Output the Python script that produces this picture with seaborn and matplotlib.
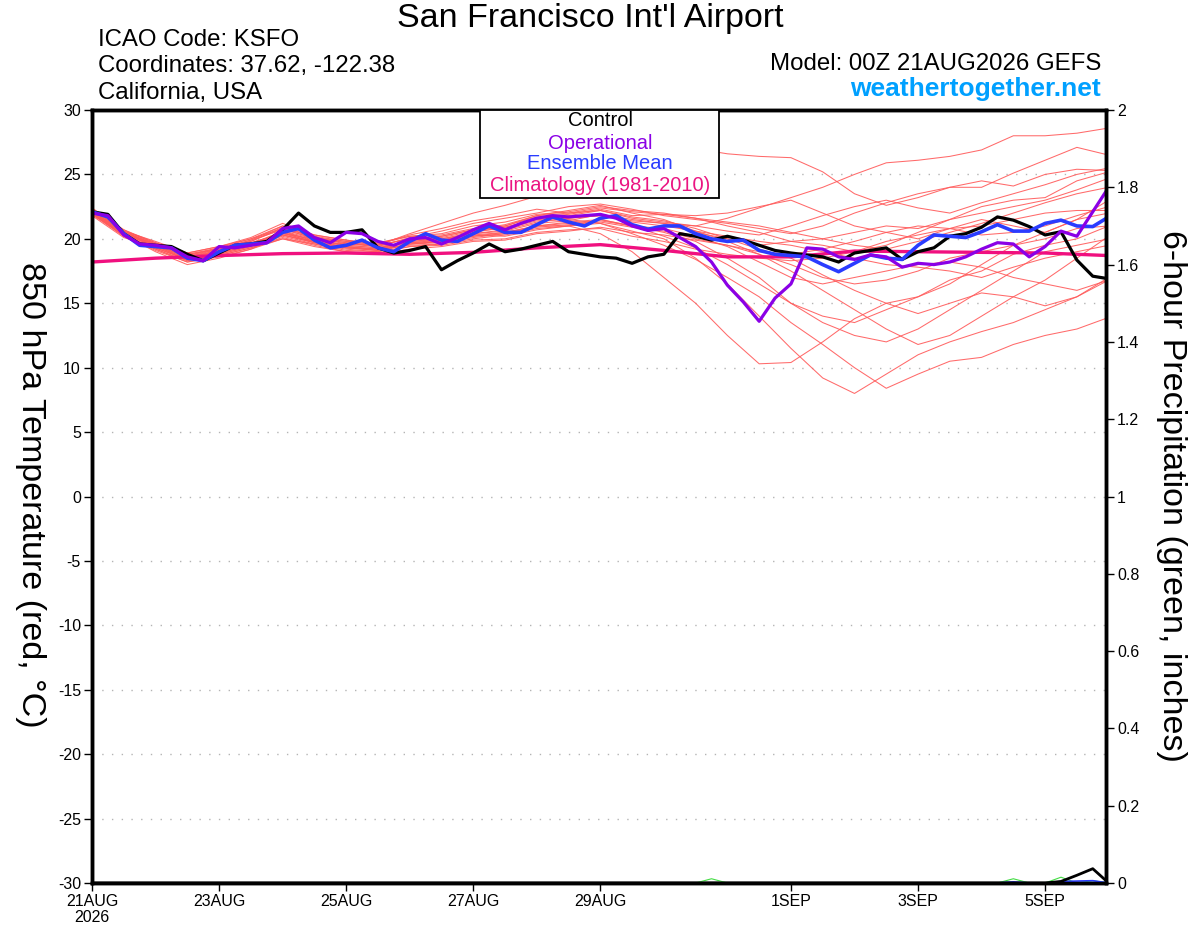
import numpy as np
import pandas as pd
import seaborn as sns
import matplotlib.pyplot as plt
from matplotlib.patches import Rectangle

# ---- data (hours since 00Z 21AUG2026) ----
hours6 = list(range(0, 385, 6))     # 65 steps, 6-hourly
hours12 = list(range(0, 385, 12))   # 33 steps, 12-hourly
clim_hours = list(range(0, 385, 24))

control = [22.1, 21.9, 20.4, 19.6, 19.5, 19.4, 18.8, 18.3, 18.9, 19.5, 19.6, 19.8, 20.7,
           22.0, 21.0, 20.5, 20.5, 20.7, 19.3, 18.9, 19.1, 19.4, 17.6, 18.3, 18.9, 19.6,
           19.0, 19.2, 19.5, 19.8, 19.0, 18.8, 18.6, 18.5, 18.1, 18.6, 18.8, 20.4, 20.2,
           19.9, 20.2, 19.9, 19.5, 19.1, 18.9, 18.75, 18.6, 18.2, 18.9, 19.1, 19.3, 18.4,
           19.0, 19.3, 20.2, 20.4, 20.9, 21.7, 21.45, 20.95, 20.3, 20.55, 18.35, 17.1, 16.9]

operational = [22.0, 21.8, 20.3, 19.6, 19.5, 19.3, 18.6, 18.3, 19.4, 19.3, 19.5, 19.7, 20.8,
               21.0, 20.1, 19.7, 20.5, 20.4, 19.8, 19.5, 20.0, 20.1, 19.6, 20.1, 20.7, 21.2,
               20.7, 21.2, 21.6, 21.8, 21.7, 21.8, 21.9, 21.6, 21.0, 20.65, 20.8, 20.1, 19.4,
               18.2, 16.4, 15.1, 13.6, 15.4, 16.5, 19.3, 19.2, 18.6, 18.4, 18.75, 18.6, 17.8,
               18.1, 18.0, 18.2, 18.6, 19.2, 19.7, 19.6, 18.6, 19.4, 20.6, 20.2, 22.1, 24.0]

ens_mean = [22.1, 21.7, 20.4, 19.5, 19.4, 19.3, 18.5, 18.3, 19.0, 19.5, 19.6, 19.7, 20.5,
            20.8, 19.9, 19.3, 19.5, 19.9, 19.3, 19.0, 19.8, 20.4, 19.9, 19.8, 20.4, 21.0,
            20.5, 20.5, 21.1, 21.7, 21.3, 21.0, 21.6, 21.8, 21.1, 20.75, 21.0, 21.0, 20.4,
            20.0, 19.8, 19.9, 19.1, 18.8, 18.7, 18.6, 18.0, 17.45, 18.1, 18.75, 18.5, 18.4,
            19.5, 20.3, 20.2, 20.1, 20.55, 21.1, 20.6, 20.6, 21.2, 21.45, 21.0, 20.95, 21.7]

climatology = [18.2, 18.5, 18.7, 18.85, 18.9, 18.8, 18.95, 19.3, 19.55, 19.1, 18.6, 18.6,
               19.05, 19.0, 18.95, 18.9, 18.7]

# ensemble members, 12-hourly
members = [
    [22.3, 20.6, 19.8, 18.9, 19.4, 20.1, 21.2, 20.3, 19.9, 19.6, 20.3, 20.8, 21.4, 21.8, 22.3, 22.0, 22.2,
     21.6, 21.3, 21.0, 21.6, 22.4, 23.2, 24.0, 25.0, 25.9, 26.1, 26.4, 26.9, 28.0, 28.0, 28.2, 28.6],
    [22.0, 20.3, 19.5, 18.6, 19.2, 19.9, 21.0, 20.1, 19.8, 19.5, 20.4, 21.2, 22.0, 22.6, 23.3, 24.2, 25.1,
     26.0, 26.9, 27.0, 26.6, 26.4, 26.3, 25.2, 23.5, 22.6, 23.2, 24.0, 24.5, 24.1, 25.0, 25.4, 25.3],
    [21.9, 20.5, 19.3, 18.4, 18.8, 19.4, 20.6, 19.8, 19.6, 19.4, 20.1, 20.6, 21.2, 21.6, 22.0, 22.5, 22.7,
     22.3, 21.8, 21.5, 21.2, 20.8, 20.4, 21.0, 22.0, 22.8, 23.5, 24.0, 24.0, 25.1, 26.1, 27.1, 26.5],
    [22.2, 20.4, 19.5, 18.3, 18.9, 19.5, 20.2, 19.6, 19.1, 19.0, 19.6, 19.8, 20.6, 21.0, 21.8, 22.2, 22.6,
     22.0, 21.5, 20.6, 19.8, 18.8, 17.5, 16.0, 14.5, 13.0, 11.8, 12.5, 14.0, 15.5, 16.8, 18.5, 20.2],
    [22.0, 20.2, 19.2, 18.2, 18.7, 19.3, 20.0, 19.6, 19.2, 19.0, 19.4, 19.6, 20.0, 20.3, 20.8, 21.0, 21.2,
     20.6, 20.0, 18.5, 16.5, 14.0, 11.5, 9.2, 8.0, 9.5, 11.0, 12.0, 12.8, 13.5, 14.5, 15.5, 17.0],
    [22.1, 20.3, 19.0, 18.0, 18.5, 19.2, 20.3, 19.8, 19.3, 19.1, 19.9, 20.1, 20.6, 20.8, 21.4, 21.5, 21.2,
     20.4, 19.5, 18.4, 17.0, 15.5, 13.5, 11.8, 10.0, 8.4, 9.5, 10.5, 10.8, 11.8, 12.5, 13.0, 13.9],
    [22.4, 20.7, 19.6, 18.7, 19.3, 19.8, 20.8, 20.0, 19.7, 19.4, 19.7, 19.8, 20.2, 20.5, 21.0, 21.0, 20.4,
     19.0, 17.0, 15.0, 12.5, 10.3, 10.4, 12.0, 13.8, 15.0, 15.5, 16.8, 17.5, 18.8, 19.5, 20.0, 21.0],
    [22.0, 20.5, 19.5, 18.6, 19.1, 19.7, 20.4, 20.0, 19.4, 19.2, 19.5, 19.6, 20.3, 20.2, 20.7, 21.0, 21.5,
     21.0, 20.5, 19.8, 18.5, 17.0, 15.0, 13.5, 12.5, 12.0, 13.0, 14.5, 16.0, 17.5, 19.0, 19.5, 20.0],
    [21.8, 20.1, 19.3, 18.4, 18.9, 19.5, 20.5, 19.7, 19.3, 19.2, 19.9, 20.0, 20.5, 20.9, 21.5, 21.8, 22.2,
     21.7, 21.4, 20.8, 20.0, 19.2, 18.5, 17.2, 16.0, 15.0, 14.2, 15.0, 15.8, 15.5, 14.8, 15.5, 16.8],
    [22.2, 20.5, 19.6, 18.8, 19.3, 20.0, 20.8, 20.2, 19.8, 19.7, 20.2, 20.3, 20.8, 21.0, 21.7, 21.9, 22.3,
     21.8, 21.9, 21.6, 21.0, 20.5, 19.8, 19.5, 19.0, 19.5, 20.5, 21.5, 22.0, 22.5, 23.0, 23.8, 24.7],
    [21.9, 20.3, 19.2, 18.3, 18.7, 19.3, 20.1, 19.5, 19.0, 18.9, 19.4, 19.5, 19.9, 20.0, 20.5, 20.7, 20.8,
     20.2, 19.8, 19.2, 18.8, 18.5, 18.3, 18.5, 19.0, 19.8, 20.3, 20.8, 21.0, 21.5, 22.0, 22.2, 22.2],
    [22.3, 20.6, 19.7, 18.8, 19.2, 19.8, 20.9, 20.1, 19.6, 19.5, 20.0, 20.2, 20.7, 21.1, 21.8, 22.0, 22.4,
     22.1, 21.9, 21.8, 22.0, 22.5, 23.0, 22.0, 21.0, 20.5, 20.0, 20.8, 21.5, 21.0, 20.5, 21.5, 23.0],
    [22.0, 20.4, 19.4, 18.5, 18.8, 19.4, 20.3, 19.7, 19.4, 19.1, 19.6, 19.7, 20.1, 20.4, 20.9, 21.1, 21.3,
     20.9, 20.6, 20.0, 19.5, 18.8, 18.0, 17.0, 16.5, 16.8, 17.5, 18.5, 19.0, 19.5, 20.0, 20.8, 21.0],
    [22.1, 20.6, 19.5, 18.6, 19.0, 19.6, 20.6, 20.0, 19.5, 19.3, 19.8, 20.0, 20.4, 20.6, 21.2, 21.4, 21.9,
     21.5, 21.2, 20.5, 20.0, 19.5, 19.8, 20.0, 20.5, 21.0, 20.8, 21.5, 22.5, 23.0, 23.2, 24.5, 25.2],
    [22.2, 20.3, 19.3, 18.4, 19.0, 19.7, 20.4, 19.8, 19.4, 19.2, 19.7, 19.9, 20.3, 20.5, 21.0, 21.2, 21.4,
     21.0, 20.8, 20.2, 19.4, 18.2, 17.0, 16.5, 17.0, 17.5, 18.0, 18.2, 17.8, 17.0, 16.5, 16.0, 16.8],
    [21.9, 20.2, 19.1, 18.2, 18.6, 19.2, 20.0, 19.4, 19.0, 18.8, 19.2, 19.4, 19.8, 19.9, 20.4, 20.6, 20.9,
     20.5, 20.3, 19.9, 19.5, 19.0, 18.8, 19.2, 19.8, 20.5, 21.0, 20.8, 20.3, 20.5, 21.0, 21.8, 22.5],
    [22.3, 20.7, 19.7, 18.9, 19.4, 20.0, 21.0, 20.3, 19.9, 19.6, 20.2, 20.4, 21.0, 21.3, 21.9, 22.1, 22.5,
     22.2, 22.0, 21.6, 21.3, 21.0, 20.5, 20.0, 19.5, 19.2, 19.8, 20.5, 21.2, 22.0, 22.8, 23.5, 24.0],
    [22.0, 20.4, 19.4, 18.5, 19.1, 19.6, 20.5, 19.9, 19.5, 19.3, 19.8, 19.9, 20.4, 20.7, 21.3, 21.6, 21.8,
     21.3, 21.0, 20.6, 20.2, 19.8, 19.5, 19.0, 18.5, 18.0, 17.8, 17.5, 17.0, 17.8, 18.5, 19.0, 19.5],
    [22.1, 20.5, 19.5, 18.6, 18.9, 19.5, 20.3, 19.7, 19.3, 19.1, 19.6, 19.8, 20.2, 20.4, 21.0, 21.3, 21.5,
     21.0, 20.2, 19.3, 18.0, 16.5, 15.0, 14.0, 13.5, 14.5, 15.5, 16.5, 18.0, 19.5, 20.5, 21.5, 22.0],
    [22.2, 20.5, 19.6, 18.7, 19.2, 19.9, 20.7, 20.1, 19.7, 19.5, 20.0, 20.2, 20.7, 20.9, 21.5, 21.6, 21.8,
     21.4, 21.2, 21.0, 20.6, 20.3, 21.0, 21.8, 22.5, 23.0, 22.4, 22.0, 22.8, 23.5, 24.2, 25.0, 25.5],
]

# 6-hour precipitation (inches): only the non-zero steps, as (hour, value)
control_rain = [(366, 0.004), (372, 0.02), (378, 0.037)]
mean_rain = [(348, 0.003), (366, 0.004), (372, 0.005), (378, 0.006)]
member_rain = [
    [(234, 0.011)],
    [(348, 0.011), (366, 0.015)],
    [(378, 0.006)],
]

tick_hours = [0, 48, 96, 144, 192, 264, 312, 360]
tick_labels = ['21AUG\n2026', '23AUG', '25AUG', '27AUG', '29AUG', '1SEP', '3SEP', '5SEP']


def rain_series(events):
    vals = dict(events)
    return [vals.get(h, 0.0) for h in hours6]


sns.set_style("white")
plt.rcParams['font.family'] = ['Liberation Sans', 'DejaVu Sans']
for k in ['text.color', 'axes.labelcolor', 'xtick.color', 'ytick.color']:
    plt.rcParams[k] = 'black'

fig = plt.figure(figsize=(12, 9.27), dpi=100)
ax = fig.add_axes([92 / 1200, 1 - 883 / 927, 1014 / 1200, 773 / 927])

# ensemble members
mem_df = pd.DataFrame([
    {'hour': h, 'temp': v, 'member': i}
    for i, m in enumerate(members) for h, v in zip(hours12, m)
])
sns.lineplot(data=mem_df, x='hour', y='temp', units='member', estimator=None,
             color='#ff5a5a', lw=0.75, alpha=0.9, ax=ax, legend=False)

sns.lineplot(x=clim_hours, y=climatology, color='#f0107f', lw=2.4, ax=ax)
sns.lineplot(x=hours6, y=control, color='black', lw=2.3, ax=ax)
sns.lineplot(x=hours6, y=ens_mean, color='#2a3cff', lw=2.6, ax=ax)
sns.lineplot(x=hours6, y=operational, color='#8a00e6', lw=2.3, ax=ax)

ax.set_xlim(0, 383)
ax.set_ylim(-30, 30)
ax.set_yticks(range(-30, 31, 5))
ax.set_yticklabels([str(v) for v in range(-30, 31, 5)])
ax.set_xticks(tick_hours)
ax.set_xticklabels(tick_labels, linespacing=1.05)
for lbl in ax.get_xticklabels():
    lbl.set_multialignment('center')
for v in range(-25, 30, 5):
    ax.axhline(v, color='#b4b4b4', lw=1.0, ls=(0, (1, 6)), zorder=0)
ax.set_xlabel('')
ax.set_ylabel('')
ax.tick_params(axis='both', direction='out', length=6, width=1, labelsize=11.5,
               color='black', left=True, bottom=True, pad=2)
for s in ax.spines.values():
    s.set_linewidth(2.5)
    s.set_color('black')

# precipitation on the right axis
ax2 = ax.twinx()
for ev in member_rain:
    sns.lineplot(x=hours6, y=rain_series(ev), color='#44dd44', lw=0.8, ax=ax2)
sns.lineplot(x=hours6, y=rain_series(mean_rain), color='#2a3cff', lw=1.2, ax=ax2)
sns.lineplot(x=hours6, y=rain_series(control_rain), color='black', lw=2.0, ax=ax2)
ax2.set_ylim(0, 2)
rt = [0, 0.2, 0.4, 0.6, 0.8, 1.0, 1.2, 1.4, 1.6, 1.8, 2.0]
ax2.set_yticks(rt)
ax2.set_yticklabels(['%g' % v for v in rt])
ax2.tick_params(axis='y', direction='out', length=6, width=1, labelsize=11.5, right=True, pad=2)
ax2.set_ylabel('')
for s in ax2.spines.values():
    s.set_linewidth(2.5)
    s.set_color('black')

# axis titles, both read top to bottom
fig.text(30 / 1200, 1 - 495 / 927, '850 hPa Temperature (red, \u00b0C)', fontsize=24.5,
         rotation=270, ha='center', va='center')
fig.text(1172 / 1200, 1 - 496 / 927, '6-hour Precipitation (green, inches)', fontsize=24.5,
         rotation=270, ha='center', va='center')

# legend box
ax2.add_patch(Rectangle((0.3826, 0.886), 0.2357, 0.114, transform=ax2.transAxes,
                        facecolor='white', edgecolor='black', lw=1.3, zorder=10, clip_on=False))
legend_rows = [('Control', 'black', 0.9858), ('Operational', '#8a00e6', 0.9573),
               ('Ensemble Mean', '#2a3cff', 0.9302), ('Climatology (1981-2010)', '#eb1482', 0.9017)]
for txt, col, yy in legend_rows:
    ax2.text(0.501, yy, txt, color=col, fontsize=14.5, ha='center', va='center',
             transform=ax2.transAxes, zorder=11)

# header texts
fig.text(590 / 1200, 1 - 18 / 927, "San Francisco Int'l Airport", fontsize=24.5,
         ha='center', va='center')
fig.text(98 / 1200, 1 - 40 / 927, 'ICAO Code: KSFO', fontsize=17.3, ha='left', va='center')
fig.text(98 / 1200, 1 - 66 / 927, 'Coordinates: 37.62, -122.38', fontsize=17.3, ha='left', va='center')
fig.text(98 / 1200, 1 - 93 / 927, 'California, USA', fontsize=17.3, ha='left', va='center')
fig.text(1101 / 1200, 1 - 64 / 927, 'Model: 00Z 21AUG2026 GEFS', fontsize=17.3, ha='right', va='center')
fig.text(1101 / 1200, 1 - 89 / 927, 'weathertogether.net', fontsize=19, fontweight='bold',
         color='#00a0ff', ha='right', va='center')

fig.savefig('out.png', dpi=100, facecolor='white')
